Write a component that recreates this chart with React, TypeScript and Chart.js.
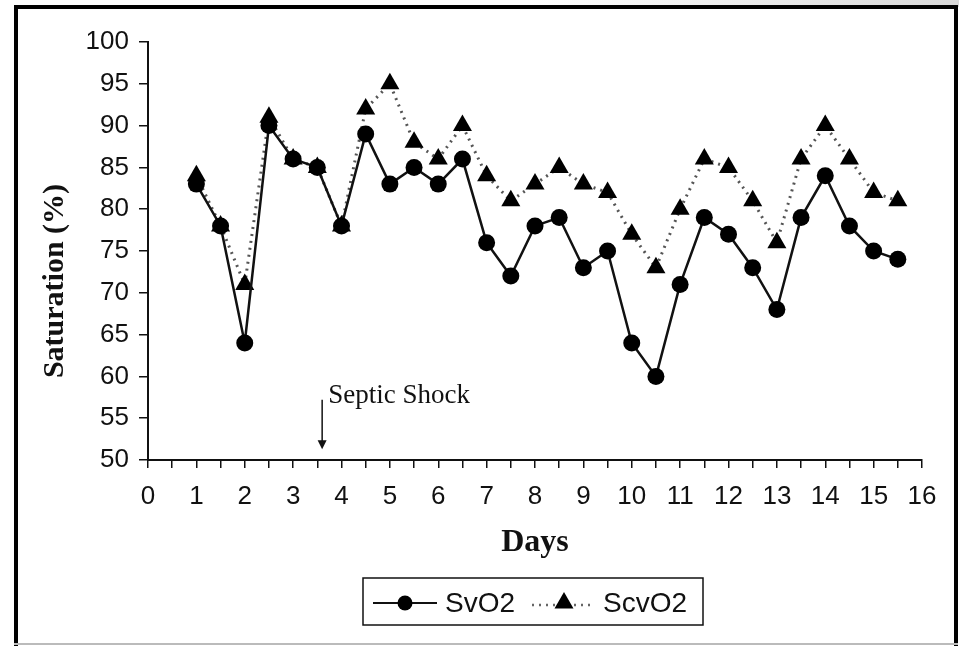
import { useEffect, useRef } from 'react';
import { Chart, registerables } from 'chart.js';

Chart.register(...registerables);

// ---- data ----
const days = [1, 1.5, 2, 2.5, 3, 3.5, 4, 4.5, 5, 5.5, 6, 6.5, 7, 7.5, 8, 8.5, 9, 9.5, 10, 10.5, 11, 11.5, 12, 12.5, 13, 13.5, 14, 14.5, 15, 15.5];
const svo2 = [83, 78, 64, 90, 86, 85, 78, 89, 83, 85, 83, 86, 76, 72, 78, 79, 73, 75, 64, 60, 71, 79, 77, 73, 68, 79, 84, 78, 75, 74];
const scvo2 = [84, 78, 71, 91, 86, 85, 78, 92, 95, 88, 86, 90, 84, 81, 83, 85, 83, 82, 77, 73, 80, 86, 85, 81, 76, 86, 90, 86, 82, 81];
const seriesNames = ['SvO2', 'ScvO2'];
const xMin = 0;
const xMax = 16;
const yMin = 50;
const yMax = 100;
const yStep = 5;
const xTitle = 'Days';
const yTitle = 'Saturation (%)';
const annotationText = 'Septic Shock';
const annotationDay = 3.6;
const annotationFrom = 57.2;
const annotationTo = 51.3;

const SANS = 'Liberation Sans, Arial, sans-serif';
const SERIF = 'Liberation Serif, Times New Roman, serif';

const W = 959;
const H = 646;

const drawTriangle = (ctx: CanvasRenderingContext2D, x: number, y: number, r: number) => {
  ctx.beginPath();
  ctx.moveTo(x, y - r);
  ctx.lineTo(x + r * 0.95, y + r * 0.65);
  ctx.lineTo(x - r * 0.95, y + r * 0.65);
  ctx.closePath();
  ctx.fill();
};

const extrasPlugin = {
  id: 'extras',
  afterDraw(chart: any) {
    const ctx: CanvasRenderingContext2D = chart.ctx;
    const xs = chart.scales.x;
    const ys = chart.scales.y;
    ctx.save();
    // y title
    ctx.fillStyle = '#111';
    ctx.font = `bold 30px ${SERIF}`;
    ctx.textAlign = 'center';
    ctx.textBaseline = 'middle';
    ctx.translate(55, 281);
    ctx.rotate(-Math.PI / 2);
    ctx.fillText(yTitle, 0, 0);
    ctx.restore();

    // annotation
    ctx.save();
    const ax = xs.getPixelForValue(annotationDay);
    const ay0 = ys.getPixelForValue(annotationFrom);
    const ay1 = ys.getPixelForValue(annotationTo);
    ctx.strokeStyle = '#111';
    ctx.fillStyle = '#111';
    ctx.lineWidth = 1.5;
    ctx.beginPath();
    ctx.moveTo(ax, ay0);
    ctx.lineTo(ax, ay1 - 8);
    ctx.stroke();
    ctx.beginPath();
    ctx.moveTo(ax - 4.5, ay1 - 9);
    ctx.lineTo(ax + 4.5, ay1 - 9);
    ctx.lineTo(ax, ay1);
    ctx.closePath();
    ctx.fill();
    ctx.font = `27px ${SERIF}`;
    ctx.textAlign = 'left';
    ctx.textBaseline = 'alphabetic';
    ctx.fillText(annotationText, ax + 6, ay0 + 3);
    ctx.restore();

    // legend
    ctx.save();
    ctx.strokeStyle = '#111';
    ctx.lineWidth = 1.5;
    ctx.strokeRect(363, 578, 340, 47);
    const ly = 603;
    ctx.lineWidth = 2;
    ctx.beginPath();
    ctx.moveTo(373, ly);
    ctx.lineTo(437, ly);
    ctx.stroke();
    ctx.fillStyle = '#000';
    ctx.beginPath();
    ctx.arc(405, ly, 7.5, 0, Math.PI * 2);
    ctx.fill();
    ctx.fillStyle = '#111';
    ctx.font = `28px ${SANS}`;
    ctx.textAlign = 'left';
    ctx.textBaseline = 'middle';
    ctx.fillText(seriesNames[0], 445, ly + 1);
    ctx.strokeStyle = '#666';
    ctx.lineWidth = 2.5;
    ctx.setLineDash([2, 5]);
    ctx.beginPath();
    ctx.moveTo(532, ly + 2);
    ctx.lineTo(592, ly + 2);
    ctx.stroke();
    ctx.setLineDash([]);
    ctx.fillStyle = '#000';
    drawTriangle(ctx, 564, ly - 1, 10);
    ctx.fillStyle = '#111';
    ctx.fillText(seriesNames[1], 603, ly + 1);
    ctx.restore();
  },
};

export default function App() {
  const ref = useRef<HTMLCanvasElement | null>(null);

  useEffect(() => {
    if (!ref.current) return;
    const chart = new Chart(ref.current, {
      type: 'line',
      data: {
        datasets: [
          {
            label: seriesNames[0],
            data: days.map((d, i) => ({ x: d, y: svo2[i] })),
            borderColor: '#111',
            borderWidth: 2.5,
            pointStyle: 'circle',
            pointRadius: 8.5,
            pointBackgroundColor: '#000',
            pointBorderColor: '#000',
            pointBorderWidth: 0,
            tension: 0,
            order: 1,
          },
          {
            label: seriesNames[1],
            data: days.map((d, i) => ({ x: d, y: scvo2[i] })),
            borderColor: '#555',
            borderWidth: 3,
            borderDash: [2, 5],
            pointStyle: 'triangle',
            pointRadius: 11,
            pointBackgroundColor: '#000',
            pointBorderColor: '#000',
            pointBorderWidth: 0,
            tension: 0,
            order: 2,
          },
        ],
      },
      options: {
        responsive: false,
        animation: false,
        events: [],
        layout: { padding: { top: 42, right: 37, left: 0, bottom: 0 } },
        plugins: {
          legend: { display: false },
          tooltip: { enabled: false },
        },
        scales: {
          x: {
            type: 'linear',
            min: xMin,
            max: xMax,
            afterBuildTicks: (s: any) => {
              const t = [];
              for (let v = xMin; v <= xMax + 1e-9; v += 0.5) t.push({ value: v });
              s.ticks = t;
            },
            afterFit: (s: any) => {
              s.height = H - 460;
            },
            ticks: {
              autoSkip: false,
              maxRotation: 0,
              padding: 13,
              color: '#111',
              font: { family: SANS, size: 26 },
              callback: (v: any) => (Number.isInteger(v) ? String(v) : ''),
            },
            grid: {
              drawOnChartArea: false,
              drawTicks: true,
              tickLength: 8,
              color: '#111',
              lineWidth: 1.5,
            },
            border: { display: true, color: '#111', width: 2 },
            title: {
              display: true,
              text: xTitle,
              color: '#111',
              font: { family: SERIF, size: 32, weight: 'bold' },
              padding: { top: 0, bottom: 84 },
            },
          },
          y: {
            type: 'linear',
            min: yMin,
            max: yMax,
            afterFit: (s: any) => {
              s.width = 148;
            },
            ticks: {
              stepSize: yStep,
              padding: 10,
              color: '#111',
              font: { family: SANS, size: 26 },
            },
            grid: {
              drawOnChartArea: false,
              drawTicks: true,
              tickLength: 9,
              color: '#111',
              lineWidth: 1.5,
            },
            border: { display: true, color: '#111', width: 2 },
          },
        },
      },
      plugins: [extrasPlugin],
    } as any);
    return () => chart.destroy();
  }, []);

  return (
    <div style={{ position: 'absolute', left: 0, top: 0, width: W, height: H, background: '#fff', overflow: 'hidden' }}>
      <div style={{ position: 'absolute', left: 0, top: 0, width: W, height: 7, background: 'linear-gradient(to right, #fff 55%, #d8d8d8 100%)' }} />
      <div style={{ position: 'absolute', left: 14, top: 5, width: 936, height: 660, borderLeft: '4px solid #000', borderTop: '4px solid #000', borderRight: '4px solid #000' }} />
      <div style={{ position: 'absolute', left: 14, top: 643, width: 944, height: 2, background: '#bbb' }} />
      <canvas ref={ref} width={W} height={H} style={{ position: 'absolute', left: 0, top: 0, width: W, height: H }} />
    </div>
  );
}
